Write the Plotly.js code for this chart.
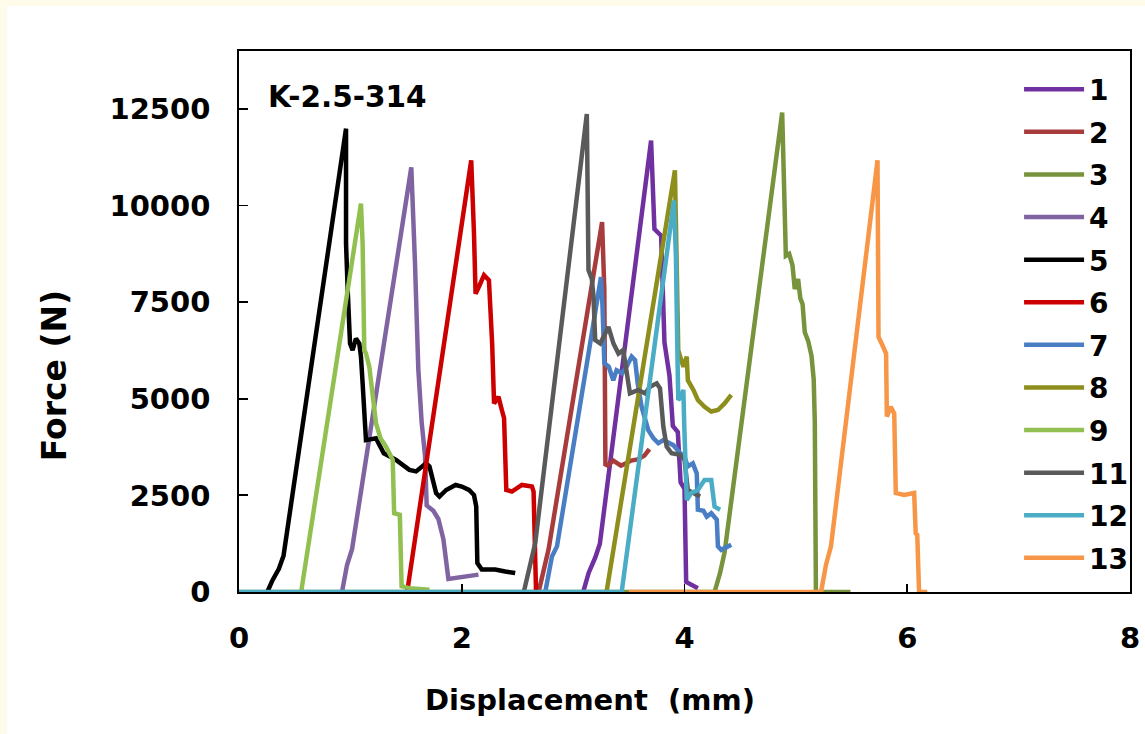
<!DOCTYPE html>
<html>
<head>
<meta charset="utf-8">
<script src="https://cdn.plot.ly/plotly-3.0.1.min.js"></script>
<style>
  html, body { margin: 0; padding: 0; background: #fffbea; }
  #chart { position: absolute; left: 7px; top: 6px; width: 1138px; height: 728px; background: #ffffff; }
</style>
</head>
<body>
<div id="chart"></div>
<script>
// Force–displacement records, specimen set K-2.5-314
const seriesNames = ['1', '2', '3', '4', '5', '6', '7', '8', '9', '11', '12', '13'];

const disp1  = [3.09, 3.14, 3.20, 3.24, 3.70, 3.73, 3.79, 3.82, 3.865, 3.895, 3.94, 3.965, 4.00, 4.015, 4.12];
const force1 = [0, 500, 900, 1250, 11680, 9390, 9220, 6460, 5600, 4300, 4140, 2840, 2670, 260, 100];

const disp2  = [2.69, 2.74, 2.78, 3.26, 3.28, 3.29, 3.31, 3.36, 3.43, 3.475, 3.52, 3.58, 3.64, 3.685];
const force2 = [0, 600, 1110, 9570, 7840, 3300, 3270, 3400, 3270, 3330, 3400, 3430, 3530, 3700];

const disp3  = [0, 4.27, 4.32, 4.36, 4.877, 4.90, 4.91, 4.94, 4.97, 4.99, 5.02, 5.04, 5.06, 5.08, 5.11, 5.14, 5.16, 5.17, 5.18, 5.49];
const force3 = [0, 0, 500, 1030, 12410, 9740, 8700, 8750, 8450, 7840, 8100, 7600, 7450, 6720, 6500, 6120, 5500, 4390, 0, 0];

const disp4  = [0.925, 0.97, 1.015, 1.547, 1.58, 1.61, 1.64, 1.67, 1.685, 1.745, 1.79, 1.835, 1.88, 2.00, 2.15];
const force4 = [0, 700, 1110, 10990, 8530, 5770, 4390, 3530, 2240, 2100, 1890, 1370, 340, 400, 450];

const disp5  = [0.254, 0.30, 0.358, 0.40, 0.961, 0.961, 0.976, 0.997, 1.02, 1.05, 1.08, 1.095, 1.11, 1.125, 1.14, 1.23, 1.30, 1.41, 1.53, 1.59, 1.68, 1.71, 1.77, 1.80, 1.86, 1.945, 2.00, 2.065, 2.11, 2.13, 2.14, 2.18, 2.30, 2.39, 2.48];
const force5 = [0, 300, 600, 940, 11990, 9020, 7810, 6430, 6260, 6560, 6430, 6090, 5400, 4790, 3930, 3980, 3590, 3420, 3160, 3120, 3330, 3250, 2560, 2470, 2640, 2770, 2730, 2640, 2510, 2210, 750, 580, 580, 530, 490];

const disp6  = [1.51, 2.085, 2.11, 2.124, 2.154, 2.20, 2.244, 2.273, 2.29, 2.33, 2.36, 2.38, 2.40, 2.45, 2.54, 2.63, 2.645, 2.667, 2.69];
const force6 = [0, 11170, 9270, 7720, 7900, 8200, 8070, 6430, 4880, 5050, 4710, 4500, 2640, 2600, 2770, 2730, 2600, 0, 0];

const disp7  = [2.75, 2.81, 2.855, 3.10, 3.12, 3.25, 3.264, 3.28, 3.32, 3.36, 3.39, 3.44, 3.48, 3.525, 3.556, 3.58, 3.615, 3.646, 3.675, 3.72, 3.765, 3.81, 3.90, 3.96, 4.00, 4.03, 4.075, 4.11, 4.12, 4.17, 4.20, 4.24, 4.29, 4.30, 4.33, 4.42];
const force7 = [0, 920, 1180, 5480, 5750, 8150, 7380, 5920, 5830, 5480, 5740, 5660, 5830, 6090, 6000, 5400, 4790, 4450, 4190, 3980, 3850, 3930, 3800, 3600, 3500, 3250, 3330, 3070, 2130, 2100, 1950, 2040, 1870, 1180, 1090, 1220];

const disp8  = [3.30, 3.914, 3.93, 3.944, 3.96, 3.99, 4.02, 4.03, 4.08, 4.12, 4.18, 4.24, 4.30, 4.36, 4.42];
const force8 = [0, 10910, 8500, 6260, 6100, 5830, 6090, 5480, 5230, 4970, 4790, 4670, 4710, 4880, 5100];

const disp9  = [0.558, 1.095, 1.11, 1.125, 1.14, 1.17, 1.20, 1.23, 1.27, 1.32, 1.38, 1.393, 1.444, 1.46, 1.53, 1.71];
const force9 = [0, 10050, 9020, 6260, 6170, 5830, 5100, 4370, 3980, 3760, 3420, 2040, 2000, 150, 100, 60];

const disp11  = [2.557, 2.617, 2.66, 3.123, 3.138, 3.168, 3.183, 3.198, 3.243, 3.288, 3.317, 3.362, 3.407, 3.45, 3.48, 3.51, 3.586, 3.646, 3.69, 3.75, 3.78, 3.81, 3.84, 3.884, 3.96, 4.00, 4.03, 4.09, 4.14];
const force11 = [0, 750, 1270, 12370, 8330, 8100, 7640, 6520, 6430, 6690, 6860, 6430, 6170, 6260, 5660, 5140, 5230, 5140, 5310, 5400, 5270, 4280, 3760, 3590, 3550, 3420, 2640, 2560, 2470];

const disp12  = [0, 3.436, 3.905, 3.923, 3.937, 3.944, 3.968, 3.99, 3.997, 4.02, 4.06, 4.12, 4.18, 4.24, 4.27, 4.32];
const force12 = [0, 0, 10130, 8670, 6090, 4970, 5050, 5230, 4370, 2380, 2560, 2640, 2900, 2900, 2210, 2130];

const disp13  = [3.50, 5.226, 5.27, 5.315, 5.733, 5.742, 5.77, 5.81, 5.817, 5.852, 5.883, 5.897, 5.972, 6.062, 6.076, 6.09, 6.106, 6.18];
const force13 = [0, 0, 700, 1180, 11170, 6600, 6430, 6170, 4540, 4790, 4620, 2560, 2510, 2560, 1520, 1480, 0, 0];

const xTickVals = [0, 2, 4, 6, 8];
const xTickText = ['0', '2', '4', '6', '8'];
const yTickVals = [0, 2500, 5000, 7500, 10000, 12500];
const yTickText = ['0', '2500', '5000', '7500', '10000', '12500'];

const allDisp  = [disp1, disp2, disp3, disp4, disp5, disp6, disp7, disp8, disp9, disp11, disp12, disp13];
const allForce = [force1, force2, force3, force4, force5, force6, force7, force8, force9, force11, force12, force13];
const lineColors = ['#7030a0', '#a83c3c', '#77933c', '#8064a2', '#000000', '#cc0000',
                    '#4a7ec4', '#8e8e1c', '#92c050', '#5a5a5a', '#4bacc6', '#f79646'];

const boldFont = (size) => ({ family: 'DejaVu Sans, Arial, sans-serif', size: size, color: '#000000', weight: 'bold' });

const traces = seriesNames.map((name, i) => ({
  type: 'scatter',
  mode: 'lines',
  name: name,
  legendgroup: 'g' + name,
  x: allDisp[i],
  y: allForce[i],
  line: { color: lineColors[i], width: 4.5 },
  hoverinfo: 'x+y+name'
}));

const layout = {
  width: 1138,
  height: 728,
  margin: { l: 232, r: 12, t: 45, b: 142 },
  paper_bgcolor: '#ffffff',
  plot_bgcolor: '#ffffff',
  showlegend: true,
  legend: {
    x: 0.8755, xanchor: 'left',
    y: 0.975, yanchor: 'top',
    bgcolor: 'rgba(0,0,0,0)',
    borderwidth: 0,
    font: boldFont(28),
    itemwidth: 60,
    tracegroupgap: 3.2,
    traceorder: 'grouped'
  },
  xaxis: {
    range: [0, 8],
    tickvals: xTickVals,
    ticktext: xTickText,
    ticks: 'inside',
    ticklen: 8,
    tickwidth: 1.8,
    tickcolor: '#000000',
    ticklabelstandoff: 19,
    showline: true,
    linecolor: '#000000',
    linewidth: 1.8,
    mirror: true,
    showgrid: false,
    zeroline: false,
    tickfont: boldFont(29),
    fixedrange: true
  },
  yaxis: {
    range: [0, 14000],
    tickvals: yTickVals,
    ticktext: yTickText,
    ticks: 'inside',
    ticklen: 9,
    tickwidth: 1.8,
    tickcolor: '#000000',
    ticklabelstandoff: 21,
    showline: true,
    linecolor: '#000000',
    linewidth: 1.8,
    mirror: true,
    showgrid: false,
    zeroline: false,
    tickfont: boldFont(29),
    fixedrange: true
  },
  annotations: [
    { text: 'K-2.5-314', xref: 'x', yref: 'y', x: 0.24, y: 12800,
      xanchor: 'left', yanchor: 'middle', showarrow: false, font: boldFont(29.5) },
    { text: 'Displacement \u00a0(mm)', xref: 'paper', yref: 'paper', x: 0.3945, y: -0.199,
      xanchor: 'center', yanchor: 'middle', showarrow: false, font: boldFont(29) },
    { text: 'Force (N)', xref: 'paper', yref: 'paper', x: -0.2062, y: 0.3994, textangle: -90,
      xanchor: 'center', yanchor: 'middle', showarrow: false, font: boldFont(33) }
  ]
};

Plotly.newPlot('chart', traces, layout, { displayModeBar: false, staticPlot: true });
</script>
</body>
</html>
